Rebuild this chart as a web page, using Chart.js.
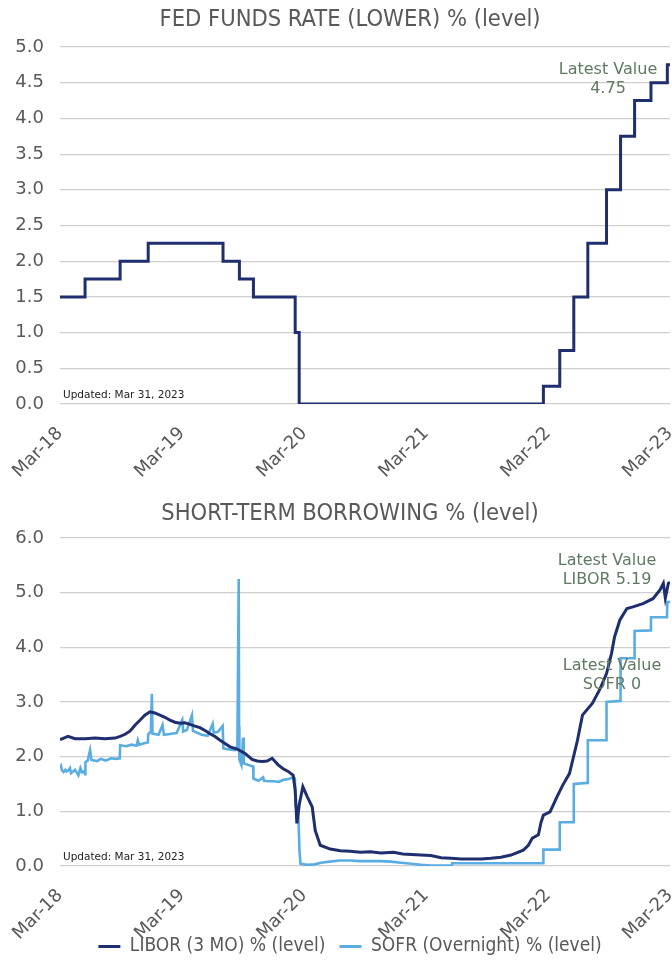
<!DOCTYPE html>
<html><head><meta charset="utf-8">
<script src="https://cdn.jsdelivr.net/npm/chart.js@4"></script>
<style>
html,body{margin:0;padding:0;background:#fff;width:672px;height:966px;overflow:hidden;}
#c1{position:absolute;left:0;top:0;}
#c2{position:absolute;left:0;top:490px;}
</style></head><body>
<canvas id="c1" width="672" height="490"></canvas>
<canvas id="c2" width="672" height="476"></canvas>
<script>
// ---------- DATA ----------
const tickDates  = ["2018-03-31","2019-03-31","2020-03-31","2021-03-31","2022-03-31","2023-03-31"];
const tickLabels = ["Mar-18","Mar-19","Mar-20","Mar-21","Mar-22","Mar-23"];

const fedDates  = ["2018-03-31","2018-06-14","2018-09-27","2018-12-20","2019-08-01","2019-09-19","2019-10-31","2020-03-04","2020-03-16","2022-03-17","2022-05-05","2022-06-16","2022-07-28","2022-09-22","2022-11-03","2022-12-15","2023-02-02","2023-03-23","2023-03-31"];
const fedValues = [1.50,1.75,2.00,2.25,2.00,1.75,1.50,1.00,0.00,0.25,0.75,1.50,2.25,3.00,3.75,4.25,4.50,4.75,4.75];

const liborDates = ["2018-03-31","2018-04-15","2018-04-24","2018-05-15","2018-06-14","2018-07-14","2018-08-13","2018-09-12","2018-09-27","2018-10-12","2018-10-27","2018-11-11","2018-11-26","2018-12-10","2018-12-25","2019-01-09","2019-01-24","2019-02-08","2019-02-23","2019-03-10","2019-03-25","2019-04-09","2019-04-24","2019-05-09","2019-05-24","2019-06-08","2019-06-23","2019-07-08","2019-07-23","2019-08-07","2019-08-22","2019-09-12","2019-10-06","2019-10-27","2019-11-11","2019-11-26","2019-12-11","2019-12-26","2020-01-13","2020-01-28","2020-02-12","2020-02-27","2020-03-04","2020-03-09","2020-03-17","2020-03-27","2020-04-09","2020-04-24","2020-05-03","2020-05-18","2020-06-17","2020-07-17","2020-08-16","2020-09-15","2020-10-15","2020-11-15","2020-12-23","2021-01-20","2021-02-15","2021-03-15","2021-04-14","2021-05-15","2021-06-13","2021-07-15","2021-08-12","2021-09-12","2021-10-11","2021-11-10","2021-12-10","2022-01-16","2022-01-31","2022-02-12","2022-03-02","2022-03-10","2022-03-17","2022-04-06","2022-04-27","2022-05-14","2022-06-03","2022-06-27","2022-07-12","2022-08-11","2022-09-01","2022-09-22","2022-10-07","2022-10-16","2022-11-01","2022-11-22","2022-12-10","2023-01-09","2023-02-08","2023-03-01","2023-03-11","2023-03-17","2023-03-26","2023-03-31"];
const liborValues = [2.31,2.35,2.37,2.33,2.33,2.34,2.33,2.34,2.37,2.41,2.47,2.58,2.67,2.76,2.82,2.80,2.76,2.72,2.67,2.63,2.61,2.62,2.59,2.56,2.53,2.48,2.42,2.37,2.30,2.24,2.18,2.14,2.06,1.95,1.92,1.91,1.92,1.97,1.85,1.78,1.73,1.66,1.39,0.78,1.15,1.45,1.27,1.08,0.65,0.38,0.31,0.28,0.27,0.25,0.26,0.24,0.25,0.22,0.21,0.20,0.19,0.15,0.14,0.13,0.13,0.13,0.14,0.16,0.20,0.29,0.38,0.51,0.57,0.80,0.93,0.99,1.27,1.48,1.69,2.30,2.76,2.98,3.22,3.52,3.89,4.19,4.50,4.71,4.74,4.80,4.89,5.05,5.17,4.90,5.17,5.19];

const sofrDates = ["2018-03-31","2018-04-03","2018-04-06","2018-04-11","2018-04-16","2018-04-20","2018-04-25","2018-04-30","2018-05-03","2018-05-09","2018-05-15","2018-05-21","2018-05-25","2018-05-31","2018-06-05","2018-06-11","2018-06-14","2018-06-15","2018-06-22","2018-06-29","2018-07-03","2018-07-20","2018-07-31","2018-08-15","2018-08-31","2018-09-14","2018-09-26","2018-09-27","2018-10-15","2018-10-31","2018-11-15","2018-11-19","2018-11-23","2018-12-05","2018-12-19","2018-12-20","2018-12-28","2018-12-31","2019-01-02","2019-01-20","2019-02-01","2019-02-05","2019-02-28","2019-03-15","2019-04-01","2019-04-04","2019-04-15","2019-04-30","2019-05-03","2019-05-29","2019-06-16","2019-07-01","2019-07-04","2019-07-16","2019-07-31","2019-08-02","2019-08-20","2019-09-06","2019-09-13","2019-09-17","2019-09-18","2019-09-19","2019-09-25","2019-09-30","2019-10-02","2019-10-15","2019-10-30","2019-10-31","2019-11-15","2019-11-29","2019-12-02","2019-12-16","2019-12-31","2020-01-15","2020-01-31","2020-02-14","2020-02-28","2020-03-03","2020-03-05","2020-03-13","2020-03-17","2020-03-20","2020-04-10","2020-05-01","2020-05-20","2020-06-15","2020-07-15","2020-08-15","2020-09-15","2020-10-15","2020-11-15","2020-12-15","2021-01-15","2021-02-15","2021-03-15","2021-04-15","2021-05-15","2021-06-16","2021-06-17","2021-09-30","2021-12-31","2022-03-16","2022-03-17","2022-05-04","2022-05-05","2022-06-15","2022-06-16","2022-07-27","2022-07-28","2022-09-21","2022-09-22","2022-11-02","2022-11-03","2022-12-14","2022-12-15","2023-02-01","2023-02-02","2023-03-22","2023-03-23","2023-03-31"];
const sofrValues = [1.80,1.83,1.75,1.72,1.76,1.73,1.75,1.79,1.70,1.73,1.76,1.70,1.66,1.79,1.71,1.73,1.68,1.90,1.93,2.12,1.94,1.92,1.96,1.93,1.97,1.96,1.97,2.21,2.19,2.22,2.20,2.30,2.22,2.24,2.26,2.41,2.46,3.15,2.42,2.40,2.58,2.40,2.42,2.43,2.67,2.46,2.49,2.76,2.47,2.40,2.38,2.60,2.44,2.45,2.56,2.15,2.13,2.12,2.20,5.25,2.55,1.95,1.85,2.35,1.88,1.85,1.82,1.60,1.56,1.62,1.56,1.55,1.55,1.54,1.58,1.59,1.63,1.60,1.10,1.00,0.26,0.04,0.02,0.03,0.06,0.08,0.10,0.10,0.09,0.09,0.09,0.08,0.06,0.04,0.02,0.01,0.01,0.01,0.05,0.05,0.05,0.05,0.30,0.30,0.80,0.80,1.50,1.52,2.30,2.30,3.00,3.02,3.80,3.80,4.30,4.31,4.55,4.55,4.83,4.83];

const fedTitle = "FED FUNDS RATE (LOWER) % (level)";
const stbTitle = "SHORT-TERM BORROWING % (level)";
const seriesNames = ["LIBOR (3 MO) % (level)","SOFR (Overnight) % (level)"];
const updatedText = "Updated: Mar 31, 2023";

// ---------- STYLE ----------
const NAVY = "#1f2e6e", LIGHT = "#5aade2", AXIS_TXT = "#595959", ANNO = "#5f7a61", GRID = "#cfcfcf";
const TICK_FONT = {family:"'DejaVu Sans', Verdana, sans-serif", size:18};
const COND = "'DejaVu Sans Condensed', 'Liberation Sans Narrow', 'DejaVu Sans', sans-serif";
const TITLE_FONT = {family:COND, size:23.5, weight:'normal'};
const LEGEND_FONT = {family:COND, size:19, weight:'normal'};

const toPts = (ds, vs) => ds.map((d,i)=>({x:Date.parse(d), y:vs[i]}));
const xMin = Date.parse(tickDates[0]), xMax = Date.parse(tickDates[tickDates.length-1]);

function xScale(plotBottom){
  return {
    type:'linear', min:xMin, max:xMax,
    grid:{display:false}, border:{display:false},
    afterBuildTicks: s => { s.ticks = tickDates.map(d=>({value:Date.parse(d)})); },
    ticks:{autoSkip:false, minRotation:45, maxRotation:45, color:AXIS_TXT, font:TICK_FONT, padding:11,
      callback:(v,i)=>tickLabels[i]},
    afterFit: s => {
      const lg = s.chart.options.plugins.legend.display && s.chart.legend ? s.chart.legend.height : 0;
      s.height = s.chart.height - plotBottom - lg;
      s.paddingLeft = 0; s.paddingRight = 0;
      s._computeLabelArea = () => undefined; // let rotated labels run past the axis box
    }
  };
}
function yScale(max, step){
  return {
    min:0, max:max,
    grid:{color:GRID, lineWidth:1.2, drawTicks:false}, border:{display:false},
    ticks:{stepSize:step, color:AXIS_TXT, font:TICK_FONT, padding:16, callback:v=>v.toFixed(1)},
    afterFit: s => { s.width = 30; s._computeLabelArea = () => undefined; }
  };
}

const textPlugin = {
  id:'texts',
  afterDatasetsDraw(chart){
    const o = chart.options.plugins.texts; if(!o) return;
    const ctx = chart.ctx, a = chart.chartArea;
    ctx.save();
    ctx.fillStyle = "#222";
    ctx.font = "10.5px 'DejaVu Sans', Verdana, sans-serif";
    ctx.textAlign = 'left'; ctx.textBaseline = 'alphabetic';
    ctx.fillText(updatedText, a.left + 3, a.bottom - 6);
    ctx.fillStyle = ANNO;
    ctx.font = "16px 'DejaVu Sans', Verdana, sans-serif";
    ctx.textAlign = 'center';
    o.notes.forEach(n => {
      n.lines.forEach((t,k)=> ctx.fillText(t, a.right + n.dx, a.top + n.dy + k*19));
    });
    ctx.restore();
  }
};
Chart.register(textPlugin);

new Chart(document.getElementById('c1'), {
  type:'line',
  data:{datasets:[{label:"Fed Funds", data:toPts(fedDates, fedValues), borderColor:NAVY, borderWidth:3, pointRadius:0, stepped:true, fill:false}]},
  options:{
    responsive:false, animation:false, parsing:false,
    layout:{padding:{left:30, right:2, top:0, bottom:0}},
    scales:{x:xScale(404), y:yScale(5, 0.5)},
    plugins:{
      legend:{display:false}, tooltip:{enabled:false},
      title:{display:true, text:fedTitle, color:AXIS_TXT, font:TITLE_FONT, padding:{top:6, bottom:12.8}},
      texts:{notes:[{dx:-62, dy:27, lines:["Latest Value", fedValues[fedValues.length-1].toFixed(2)]}]}
    }
  }
});

new Chart(document.getElementById('c2'), {
  type:'line',
  data:{datasets:[
    {label:seriesNames[0], data:toPts(liborDates, liborValues), borderColor:NAVY, backgroundColor:NAVY, borderWidth:3, pointRadius:0, fill:false, tension:0},
    {label:seriesNames[1], data:toPts(sofrDates, sofrValues), borderColor:LIGHT, backgroundColor:LIGHT, borderWidth:2.6, pointRadius:0, fill:false, tension:0}
  ]},
  options:{
    responsive:false, animation:false, parsing:false,
    layout:{padding:{left:30, right:2, top:0, bottom:0}},
    scales:{x:xScale(376), y:yScale(6, 1)},
    plugins:{
      tooltip:{enabled:false},
      legend:{display:true, position:'bottom',
        labels:{boxWidth:22, boxHeight:3, padding:14, color:AXIS_TXT, font:LEGEND_FONT,
          generateLabels:(chart)=>Chart.defaults.plugins.legend.labels.generateLabels(chart).map(l=>Object.assign(l,{lineWidth:0}))}},
      title:{display:true, text:stbTitle, color:AXIS_TXT, font:TITLE_FONT, padding:{top:10, bottom:9.8}},
      texts:{notes:[
        {dx:-63, dy:27, lines:["Latest Value", "LIBOR " + liborValues[liborValues.length-1].toFixed(2)]},
        {dx:-58, dy:132, lines:["Latest Value", "SOFR 0"]}
      ]}
    }
  }
});
</script>
</body></html>
